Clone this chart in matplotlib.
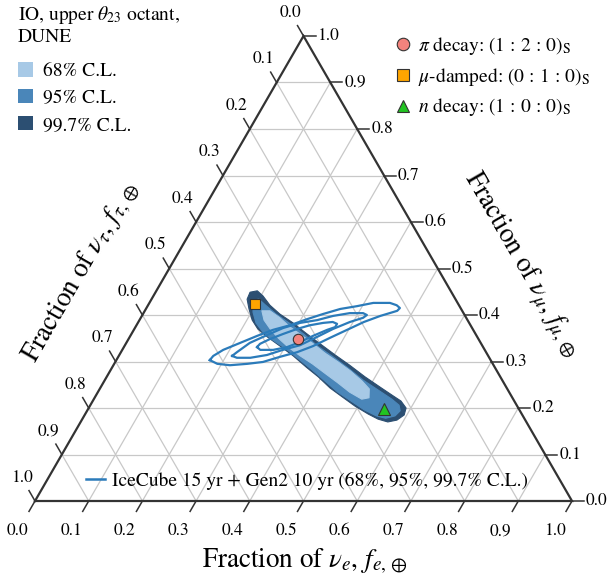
import numpy as np
import matplotlib
matplotlib.use("Agg")
import matplotlib.pyplot as plt
from matplotlib.patches import Polygon, Patch
from matplotlib.lines import Line2D

plt.rcParams['font.family'] = ['STIXGeneral', 'DejaVu Serif']
plt.rcParams['mathtext.fontset'] = 'stix'

# ---------------- data ----------------
tick_values = [0.0, 0.1, 0.2, 0.3, 0.4, 0.5, 0.6, 0.7, 0.8, 0.9, 1.0]
tick_labels = ["0.0", "0.1", "0.2", "0.3", "0.4", "0.5", "0.6", "0.7", "0.8", "0.9", "1.0"]

# DUNE allowed regions, vertices as (f_e, f_mu)
dune_997 = [(0.176, 0.449), (0.188, 0.452), (0.204, 0.441), (0.227, 0.421), (0.255, 0.402),
            (0.289, 0.383), (0.324, 0.361), (0.362, 0.338), (0.402, 0.314), (0.440, 0.292),
            (0.481, 0.267), (0.520, 0.245), (0.554, 0.226), (0.574, 0.215), (0.591, 0.200),
            (0.595, 0.185), (0.587, 0.174), (0.572, 0.170), (0.551, 0.176), (0.527, 0.187),
            (0.494, 0.204), (0.460, 0.224), (0.428, 0.243), (0.394, 0.267), (0.361, 0.288),
            (0.325, 0.312), (0.290, 0.333), (0.256, 0.353), (0.230, 0.370), (0.210, 0.389),
            (0.192, 0.413), (0.178, 0.434)]
dune_95 = [(0.190, 0.432), (0.200, 0.434), (0.219, 0.421), (0.248, 0.402), (0.285, 0.381),
           (0.321, 0.359), (0.360, 0.333), (0.400, 0.310), (0.440, 0.286), (0.481, 0.260),
           (0.519, 0.239), (0.555, 0.219), (0.575, 0.206), (0.583, 0.194), (0.579, 0.183),
           (0.564, 0.178), (0.544, 0.183), (0.515, 0.196), (0.481, 0.215), (0.447, 0.234),
           (0.411, 0.258), (0.375, 0.282), (0.339, 0.305), (0.304, 0.327), (0.270, 0.346),
           (0.243, 0.363), (0.220, 0.383), (0.203, 0.406)]
dune_68 = [(0.218, 0.409), (0.233, 0.409), (0.259, 0.394), (0.288, 0.374), (0.314, 0.359),
           (0.346, 0.340), (0.381, 0.318), (0.415, 0.299), (0.447, 0.280), (0.480, 0.258),
           (0.502, 0.241), (0.511, 0.222), (0.499, 0.219), (0.469, 0.234), (0.437, 0.254),
           (0.402, 0.275), (0.369, 0.295), (0.338, 0.312), (0.306, 0.331), (0.277, 0.351),
           (0.253, 0.370), (0.232, 0.389)]

# IceCube 15 yr + Gen2 10 yr contours (f_e, f_mu)
icecube_997 = [(0.174, 0.303), (0.176, 0.312), (0.188, 0.325), (0.212, 0.340), (0.236, 0.355),
               (0.259, 0.368), (0.286, 0.378), (0.311, 0.391), (0.335, 0.402), (0.362, 0.413),
               (0.390, 0.419), (0.417, 0.426), (0.448, 0.426), (0.463, 0.421), (0.472, 0.415),
               (0.470, 0.409), (0.463, 0.406), (0.444, 0.398), (0.420, 0.385), (0.397, 0.368),
               (0.374, 0.351), (0.351, 0.333), (0.328, 0.320), (0.301, 0.310), (0.275, 0.299),
               (0.248, 0.295), (0.217, 0.292), (0.192, 0.295)]
icecube_95 = [(0.211, 0.312), (0.216, 0.320), (0.230, 0.340), (0.254, 0.357), (0.276, 0.372),
              (0.302, 0.383), (0.331, 0.389), (0.356, 0.398), (0.384, 0.404), (0.409, 0.404),
              (0.418, 0.400), (0.414, 0.394), (0.394, 0.385), (0.370, 0.370), (0.349, 0.353),
              (0.326, 0.335), (0.299, 0.325), (0.275, 0.314), (0.247, 0.308), (0.222, 0.308)]
icecube_68 = [(0.248, 0.331), (0.250, 0.338), (0.263, 0.348), (0.282, 0.359), (0.303, 0.370),
              (0.323, 0.378), (0.345, 0.383), (0.362, 0.385), (0.372, 0.381), (0.372, 0.374),
              (0.360, 0.368), (0.340, 0.355), (0.323, 0.342), (0.304, 0.331), (0.281, 0.325),
              (0.257, 0.325)]

# Benchmark flavor compositions at Earth (f_e, f_mu)
pion_point = (0.316, 0.348)
mudamped_point = (0.198, 0.424)
neutron_point = (0.551, 0.198)

dune_title = "IO, upper $\\theta_{23}$ octant,\nDUNE"
dune_labels = ["68% C.L.", "95% C.L.", "99.7% C.L."]
source_labels = [r"$\pi$ decay: $(1\,:\,2\,:\,0)_{\mathrm{S}}$",
                 r"$\mu$-damped: $(0\,:\,1\,:\,0)_{\mathrm{S}}$",
                 r"$n$ decay: $(1\,:\,0\,:\,0)_{\mathrm{S}}$"]
icecube_label = "IceCube 15 yr + Gen2 10 yr (68%, 95%, 99.7% C.L.)"

# ---------------- styles ----------------
c68, c95, c997 = "#a7c9e6", "#4a86b9", "#2c4f72"
c_ice = "#2b7bba"
H = np.sqrt(3) / 2


def tern(fe, fmu):
    fe = np.asarray(fe, dtype=float)
    fmu = np.asarray(fmu, dtype=float)
    return fe + 0.5 * fmu, H * fmu


def poly_xy(pts):
    fe, fmu = zip(*pts)
    x, y = tern(fe, fmu)
    return np.column_stack([x, y])


fig = plt.figure(figsize=(6.1, 5.8), dpi=100)
ax = fig.add_axes([35 / 610, (580 - 501) / 580, 537 / 610, 465 / 580])
ax.set_xlim(0, 1)
ax.set_ylim(0, H)
ax.axis('off')

px = 1 / 537.0

# grid
gkw = dict(color="#c8c8c8", lw=0.9, zorder=1)
for c in tick_values[1:-1]:
    x, y = tern([c, c], [0, 1 - c]); ax.plot(x, y, **gkw)
    x, y = tern([0, 1 - c], [c, c]); ax.plot(x, y, **gkw)
    x, y = tern([1 - c, 0], [0, 1 - c]); ax.plot(x, y, **gkw)

# border
x, y = tern([0, 1, 0, 0], [0, 0, 1, 0])
ax.plot(x, y, color="#333333", lw=1.6, zorder=6, solid_joinstyle='miter', clip_on=False)

# ticks and tick labels
tl = 12 * px
tkw = dict(color="#333333", lw=1.1, zorder=6, clip_on=False)
fs_tick = 12.5
d_bot = np.array([-0.5, -H])
d_left = np.array([-0.5, H])
for v, lab in zip(tick_values, tick_labels):
    # bottom: f_e
    x0, y0 = tern(v, 0)
    ax.plot([x0, x0 + tl * d_bot[0]], [y0, y0 + tl * d_bot[1]], **tkw)
    ax.text(x0 + 35 * px * d_bot[0], y0 + 35 * px * d_bot[1], lab, ha='center', va='center',
            fontsize=fs_tick)
    # right: f_mu
    x0, y0 = tern(1 - v, v)
    ax.plot([x0, x0 + tl], [y0, y0], **tkw)
    ax.text(x0 + 14 * px, y0, lab, ha='left', va='center', fontsize=fs_tick)
    # left: f_tau
    x0, y0 = tern(0, 1 - v)
    ax.plot([x0, x0 + tl * d_left[0]], [y0, y0 + tl * d_left[1]], **tkw)
    ax.text(x0 + 27 * px * d_left[0], y0 + 27 * px * d_left[1], lab, ha='center', va='center',
            fontsize=fs_tick)

# axis titles
fs_title = 19.5
ax.text((305 - 35) * px, (501 - 561) * px, r"Fraction of $\nu_e$, $f_{e,\oplus}$",
        ha='center', va='center', fontsize=fs_title)
ax.text((521 - 35) * px, (501 - 265) * px, r"Fraction of $\nu_\mu$, $f_{\mu,\oplus}$",
        ha='center', va='center', fontsize=fs_title, rotation=-60, rotation_mode='anchor')
ax.text((81 - 35) * px, (501 - 272) * px, r"Fraction of $\nu_\tau$, $f_{\tau,\oplus}$",
        ha='center', va='center', fontsize=fs_title, rotation=60, rotation_mode='anchor')

# DUNE regions
for pts, col in [(dune_997, c997), (dune_95, c95), (dune_68, c68)]:
    ax.add_patch(Polygon(poly_xy(pts), closed=True, facecolor=col, edgecolor=col,
                         lw=0.8, joinstyle='round', zorder=2))

# IceCube contours
for pts in [icecube_997, icecube_95, icecube_68]:
    xy = poly_xy(pts)
    xy = np.vstack([xy, xy[:1]])
    ax.plot(xy[:, 0], xy[:, 1], color=c_ice, lw=1.6, solid_joinstyle='round', zorder=4)

# benchmark points
mk = dict(ls='none', markeredgecolor="#333333", markeredgewidth=0.8)
x, y = tern(*pion_point); ax.plot(x, y, marker='o', markersize=7.5, markerfacecolor="#f4837d", zorder=7, **mk)
x, y = tern(*mudamped_point); ax.plot(x, y, marker='s', markersize=7, markerfacecolor="#ffa500", zorder=7, **mk)
x, y = tern(*neutron_point); ax.plot(x, y, marker='^', markersize=8, markerfacecolor="#22c322", zorder=7, **mk)

# legends
fs_leg = 14
h_dune = [Patch(facecolor=c, edgecolor='none') for c in (c68, c95, c997)]
leg1 = fig.legend(h_dune, dune_labels, loc='upper left', bbox_to_anchor=(18 / 610, 1 - 4 / 580),
                  bbox_transform=fig.transFigure, frameon=False, fontsize=fs_leg,
                  title=dune_title, title_fontsize=fs_leg,
                  alignment='left', handlelength=0.75, handleheight=0.75,
                  handletextpad=0.55, labelspacing=0.45, borderpad=0.0, borderaxespad=0.0)
leg1.get_title().set_linespacing(1.25)
leg1._legend_box.sep = 11.5

h_src = [Line2D([], [], marker='o', markersize=9, markerfacecolor="#f4837d", **mk),
         Line2D([], [], marker='s', markersize=8.5, markerfacecolor="#ffa500", **mk),
         Line2D([], [], marker='^', markersize=9, markerfacecolor="#22c322", **mk)]
leg2 = fig.legend(h_src, source_labels, loc='upper left', bbox_to_anchor=(396 / 610, 1 - 35 / 580),
                  bbox_transform=fig.transFigure, frameon=False, fontsize=fs_leg,
                  handlelength=0.7, handletextpad=0.45, labelspacing=0.45,
                  borderpad=0.0, borderaxespad=0.0)

h_ice = [Line2D([], [], color=c_ice, lw=1.8)]
leg3 = fig.legend(h_ice, [icecube_label], loc='center left',
                  bbox_to_anchor=(86 / 610, 1 - 481 / 580),
                  bbox_transform=fig.transFigure, frameon=False, fontsize=fs_leg,
                  handlelength=1.0, handletextpad=0.35, borderpad=0.0, borderaxespad=0.0)

fig.savefig("out.png", dpi=100)
